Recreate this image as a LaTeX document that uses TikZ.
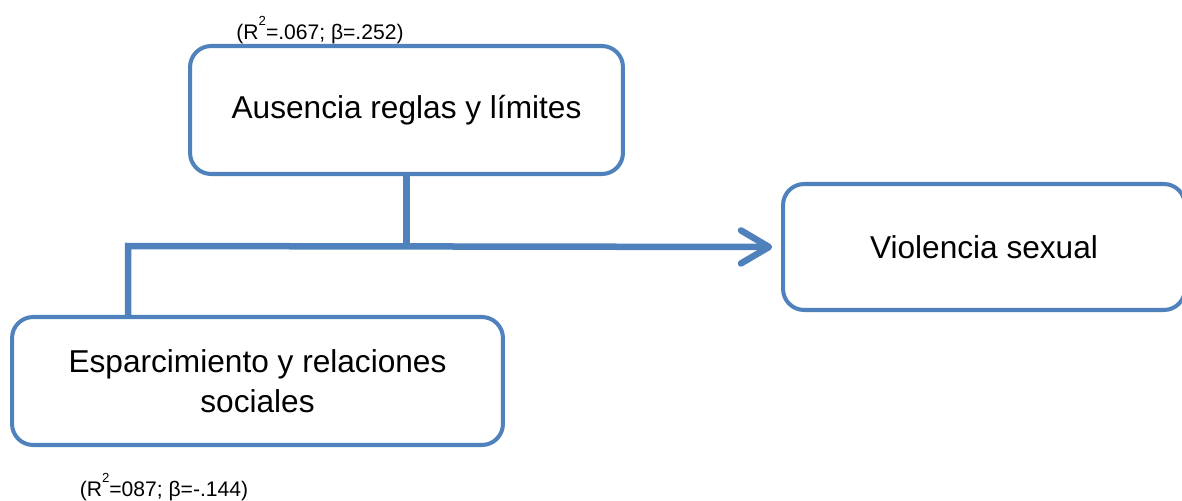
\documentclass[tikz,border=0pt]{standalone}
\usepackage{fontspec}
\setmainfont{Liberation Sans}
\usetikzlibrary{arrows.meta}
\definecolor{azul}{RGB}{79,129,189}
\tikzset{
  caja/.style={draw=azul, line width=2.3pt, rounded corners=12pt, align=center,
    inner sep=0pt, font=\fontsize{18}{23}\selectfont},
  flecha/.style={draw=azul, line width=3.7pt},
  coef/.style={inner sep=0pt, font=\fontsize{12}{13}\selectfont}
}
\newcommand{\rdos}{R\raisebox{1.3ex}{\fontsize{7.5}{8}\selectfont 2}}

\begin{document}
\begin{tikzpicture}[x=0.02cm,y=-0.02cm]
  \useasboundingbox (0,0) rectangle (1182,500);

  \node[caja, minimum width=8.66cm, minimum height=2.56cm] (ausencia) at (406.5,110) {Ausencia reglas y límites};
  \node[caja, minimum width=8.04cm, minimum height=2.52cm] (violencia) at (984,247) {Violencia sexual};
  \node[caja, minimum width=9.82cm, minimum height=2.56cm] (esparc) at (257.5,381) {Esparcimiento y relaciones\\sociales};

  \node[coef] (coefa) at (320,30) {(\rdos=.067; β=.252)};
  \node[coef] (coefe) at (164,487) {(\rdos=087; β=-.144)};

  \coordinate (codo) at (128,246);
  \draw[flecha] (ausencia.south) -- (ausencia.south |- codo);
  \draw[flecha, -{Straight Barb[length=0.56cm, width=0.66cm, round]}, shorten >=5pt]
    (esparc.north -| codo) -- (codo) -- (violencia.west);
\end{tikzpicture}
\end{document}
